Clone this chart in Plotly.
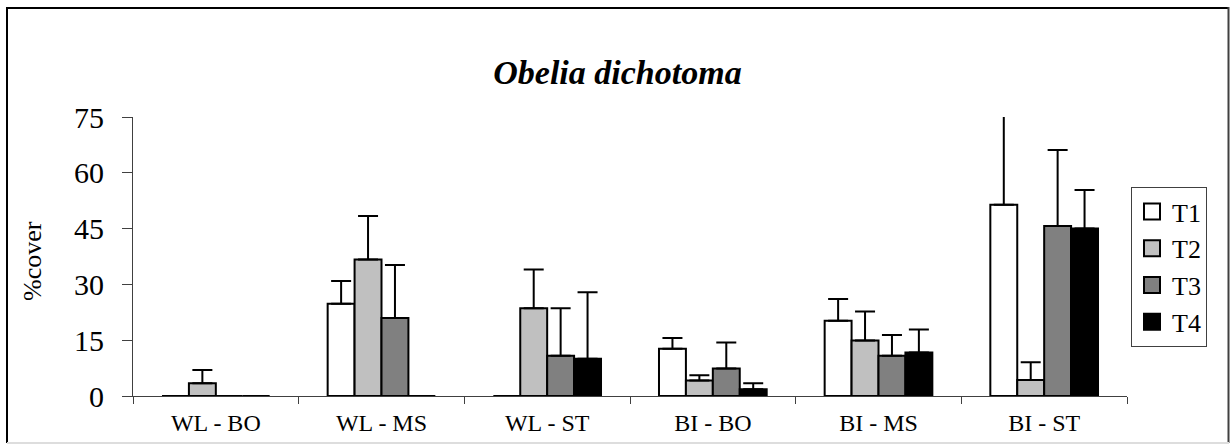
import plotly.graph_objects as go

# Sites (x categories) and treatments
sites = ["WL - BO", "WL - MS", "WL - ST", "BI - BO", "BI - MS", "BI - ST"]
treatments = ["T1", "T2", "T3", "T4"]

# Mean % cover per treatment, one value per site
t1_mean = [0.0, 24.8, 0.0, 12.7, 20.2, 51.4]
t2_mean = [3.4, 36.7, 23.6, 4.2, 14.9, 4.3]
t3_mean = [0.0, 21.0, 10.8, 7.4, 10.8, 45.7]
t4_mean = [0.0, 0.0, 10.0, 1.8, 11.7, 45.0]

# Upper error (standard error) per treatment
t1_err = [0.0, 6.1, 0.0, 2.9, 5.9, 24.0]
t2_err = [3.6, 11.7, 10.4, 1.4, 7.8, 4.8]
t3_err = [0.0, 14.2, 12.8, 7.0, 5.6, 20.4]
t4_err = [0.0, 0.0, 17.9, 1.6, 6.2, 10.4]

y_ticks = [0, 15, 30, 45, 60, 75]

means = [t1_mean, t2_mean, t3_mean, t4_mean]
errs = [t1_err, t2_err, t3_err, t4_err]
fills = ["#FFFFFF", "#C0C0C0", "#808080", "#000000"]

SERIF = "Times New Roman"

fig = go.Figure()
for name, m, e, c in zip(treatments, means, errs, fills):
    fig.add_trace(go.Bar(
        x=sites, y=m, name=name, showlegend=False,
        marker=dict(color=c, line=dict(color="#000000", width=2)),
        error_y=dict(type="data", symmetric=False, array=e,
                     arrayminus=[0] * len(e), color="#000000",
                     thickness=2, width=10),
        cliponaxis=False,
    ))
# Legend keys: square swatches in the treatment fill colours
for name, c in zip(treatments, fills):
    fig.add_trace(go.Scatter(
        x=[None], y=[None], mode="markers", name=name,
        legendgroup=name,
        marker=dict(symbol="square", size=16, color=c,
                    line=dict(color="#000000", width=2)),
    ))

# Plot-area geometry in pixels
W, H = 1230, 445
L, R, T, B = 133, 103, 117, 49
pw, ph = W - L - R, H - T - B

fig.update_layout(
    width=W, height=H,
    margin=dict(l=L, r=R, t=T, b=B, pad=0, autoexpand=False),
    paper_bgcolor="#FFFFFF", plot_bgcolor="#FFFFFF",
    barmode="group", bargap=0.35, bargroupgap=0,
    font=dict(family=SERIF, color="#000000"),
    title=dict(text="<b><i>Obelia dichotoma</i></b>",
               font=dict(family=SERIF, size=34, color="#000000"),
               x=0.502, xanchor="center", xref="container",
               y=1 - 72 / H, yanchor="middle", yref="container"),
    showlegend=True,
    legend=dict(x=(1131 - L) / pw, y=(396 - 187) / ph,
                xanchor="left", yanchor="top",
                bordercolor="#404040", borderwidth=1,
                bgcolor="#FFFFFF", itemsizing="trace",
                font=dict(family=SERIF, size=26, color="#000000"),
                traceorder="grouped", tracegroupgap=0,
                itemclick=False),
    xaxis=dict(showgrid=False, zeroline=False, automargin=False,
               showline=True, linecolor="#404040", linewidth=1,
               ticks="outside", tickson="boundaries", ticklen=7,
               tickcolor="#404040", tickwidth=1,
               tickfont=dict(family=SERIF, size=24, color="#000000"),
               ticklabelstandoff=5),
    yaxis=dict(range=[0, 75], tickvals=y_ticks, automargin=False,
               showgrid=False, zeroline=False,
               showline=True, linecolor="#404040", linewidth=1,
               ticks="outside", ticklen=10, tickcolor="#404040",
               tickwidth=1,
               tickfont=dict(family=SERIF, size=30, color="#000000"),
               ticklabelstandoff=12),
    annotations=[dict(text="%cover", textangle=-90,
                      xref="paper", yref="paper",
                      x=(32 - L) / pw, y=(396 - 261) / ph,
                      xanchor="center", yanchor="middle",
                      showarrow=False,
                      font=dict(family=SERIF, size=26, color="#000000"))],
    shapes=[
        # outer frame around the whole chart
        dict(type="line", xref="paper", yref="paper",
             x0=(7 - L) / pw, x1=(7 - L) / pw,
             y0=(396 - 443) / ph, y1=(396 - 7) / ph,
             line=dict(color="#000000", width=2)),
        dict(type="line", xref="paper", yref="paper",
             x0=(7 - L) / pw, x1=(1229 - L) / pw,
             y0=(396 - 8) / ph, y1=(396 - 8) / ph,
             line=dict(color="#000000", width=2)),
        dict(type="line", xref="paper", yref="paper",
             x0=(1228.5 - L) / pw, x1=(1228.5 - L) / pw,
             y0=(396 - 443) / ph, y1=(396 - 7) / ph,
             line=dict(color="#404040", width=2)),
        dict(type="line", xref="paper", yref="paper",
             x0=(7 - L) / pw, x1=(1229 - L) / pw,
             y0=(396 - 443) / ph, y1=(396 - 443) / ph,
             line=dict(color="#DDDDDD", width=2)),
    ],
)

fig.write_html("out.html")
